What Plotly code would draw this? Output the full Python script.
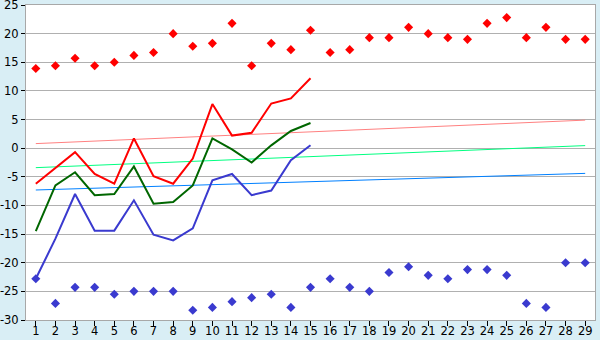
import plotly.graph_objects as go

days = list(range(1, 30))
y_ticks = list(range(-30, 30, 5))
max_points = [13.9, 14.4, 15.7, 14.4, 15.0, 16.2, 16.7, 20.0, 17.8, 18.3,
              21.8, 14.4, 18.3, 17.2, 20.6, 16.7, 17.2, 19.3, 19.3, 21.1,
              20.0, 19.3, 19.0, 21.8, 22.8, 19.3, 21.1, 19.0, 19.0]
min_points = [-22.8, -27.1, -24.3, -24.3, -25.5, -25.0, -25.0, -25.0, -28.3, -27.8,
              -26.8, -26.1, -25.5, -27.8, -24.3, -22.8, -24.3, -25.0, -21.7, -20.7,
              -22.2, -22.8, -21.2, -21.2, -22.2, -27.1, -27.8, -20.0, -20.0]
line_days = list(range(1, 16))
red_line = [-6.2, -3.4, -0.7, -4.5, -6.2, 1.7, -4.9, -6.2, -1.8, 7.7, 2.2, 2.7, 7.8, 8.7, 12.2]
green_line = [-14.5, -6.5, -4.2, -8.2, -8.0, -3.2, -9.7, -9.4, -6.5, 1.7, -0.2, -2.5, 0.5, 3.0, 4.4]
blue_line = [-22.8, -15.8, -8.0, -14.4, -14.4, -9.1, -15.1, -16.1, -14.0, -5.6, -4.5, -8.2, -7.4, -2.1, 0.5]
trend_days = [1, 29]
red_trend = [0.8, 4.9]
green_trend = [-3.4, 0.45]
blue_trend = [-7.3, -4.4]

fig = go.Figure()
fig.add_trace(go.Scatter(x=trend_days, y=red_trend, mode="lines",
                         line=dict(color="#FF8080", width=1)))
fig.add_trace(go.Scatter(x=trend_days, y=green_trend, mode="lines",
                         line=dict(color="#00FF80", width=1)))
fig.add_trace(go.Scatter(x=trend_days, y=blue_trend, mode="lines",
                         line=dict(color="#0080FF", width=1)))
fig.add_trace(go.Scatter(x=line_days, y=red_line, mode="lines",
                         line=dict(color="#FF0000", width=2)))
fig.add_trace(go.Scatter(x=line_days, y=green_line, mode="lines",
                         line=dict(color="#006600", width=2)))
fig.add_trace(go.Scatter(x=line_days, y=blue_line, mode="lines",
                         line=dict(color="#3A3ACF", width=2)))
fig.add_trace(go.Scatter(x=days, y=max_points, mode="markers",
                         marker=dict(symbol="diamond", size=7, color="#FF0000")))
fig.add_trace(go.Scatter(x=days, y=min_points, mode="markers",
                         marker=dict(symbol="diamond", size=7, color="#3A3ACF")))

fig.update_layout(
    width=600, height=340,
    margin=dict(l=26, r=5, t=5, b=20, autoexpand=False),
    paper_bgcolor="#D9EEF5",
    plot_bgcolor="#FFFFFF",
    showlegend=False,
    font=dict(family="DejaVu Sans", size=11, color="#000000"),
)
fig.update_xaxes(range=[0.5, 29.5], tickmode="array", tickvals=days,
                 ticktext=[str(d) for d in days], showgrid=False, zeroline=False,
                 showline=True, linecolor="#A8A8A8", linewidth=1, mirror=True,
                 ticks="outside", ticklen=5, tickcolor="#000000",
                 tickfont=dict(size=11.5), automargin=False,
                 ticklabelstandoff=-5, ticklabeloverflow="allow")
fig.update_yaxes(range=[-30, 25], tickmode="array", tickvals=y_ticks,
                 ticktext=[str(v) for v in y_ticks], showgrid=True,
                 gridcolor="#B0B0B0", gridwidth=1, zeroline=False,
                 showline=True, linecolor="#A8A8A8", linewidth=1, mirror=True,
                 ticks="outside", ticklen=4, tickcolor="#000000",
                 tickfont=dict(size=11.5), automargin=False, ticklabeloverflow="allow")

fig.write_html("out.html")
